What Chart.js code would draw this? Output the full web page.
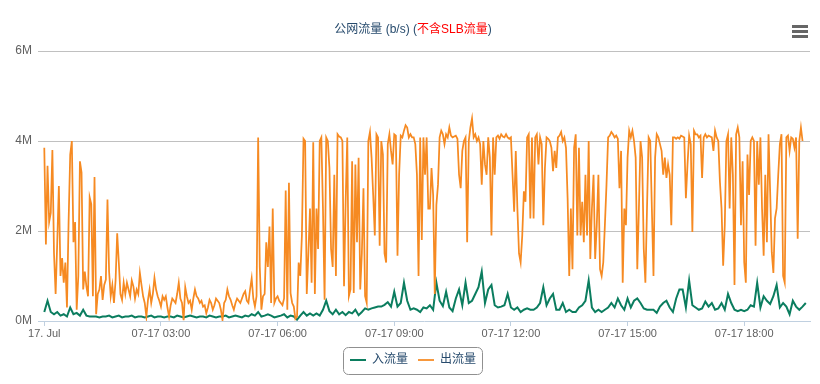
<!DOCTYPE html>
<html>
<head>
<meta charset="utf-8">
<script src="https://cdn.jsdelivr.net/npm/chart.js@4/dist/chart.umd.min.js"></script>
<style>
  html, body { margin: 0; padding: 0; background: #ffffff; }
  #wrap { width: 820px; height: 384px; position: relative; }
</style>
</head>
<body>
<div id="wrap"><canvas id="c" width="820" height="384"></canvas></div>
<script>
// ---- texts ----
const titleParts = ['公网流量 (b/s) (', '不含SLB流量', ')'];
const seriesNames = ['入流量', '出流量'];
const tickMinutes = [0, 180, 360, 540, 720, 900, 1080];
const tickLabels = ['17. Jul', '07-17 03:00', '07-17 06:00', '07-17 09:00', '07-17 12:00', '07-17 15:00', '07-17 18:00'];
const yTicks = [0, 2, 4, 6];

// sample intervals (minutes), both series start at 07-17 00:00
const IN_STEP_MIN = 5;
const OUT_STEP_MIN = 2.5;

// 入流量 (M b/s), one value every 5 minutes
const inFlow = [
  0.2,0.45,0.2,0.15,0.2,0.12,0.15,0.1,0.3,0.15,
  0.18,0.12,0.25,0.12,0.1,0.1,0.1,0.08,0.1,0.1,
  0.12,0.08,0.1,0.12,0.08,0.1,0.1,0.12,0.08,0.1,
  0.1,0.08,0.1,0.12,0.08,0.1,0.1,0.08,0.1,0.1,
  0.08,0.12,0.1,0.08,0.1,0.12,0.1,0.08,0.1,0.1,
  0.08,0.12,0.1,0.08,0.1,0.1,0.12,0.08,0.1,0.12,
  0.1,0.08,0.12,0.1,0.15,0.12,0.2,0.1,0.12,0.15,
  0.12,0.08,0.1,0.12,0.15,0.08,0.12,0.1,0.03,0.12,
  0.2,0.12,0.17,0.12,0.17,0.12,0.25,0.45,0.22,0.15,
  0.25,0.15,0.2,0.13,0.2,0.17,0.25,0.13,0.2,0.28,
  0.25,0.28,0.3,0.32,0.32,0.36,0.42,0.32,0.65,0.32,
  0.4,0.85,0.45,0.25,0.28,0.25,0.2,0.3,0.28,0.35,
  0.25,0.85,0.45,0.33,0.65,0.3,0.22,0.5,0.7,0.35,
  0.85,0.4,0.45,0.6,0.75,1.1,0.4,0.7,0.8,0.35,
  0.3,0.32,0.35,0.6,0.3,0.25,0.3,0.2,0.25,0.28,
  0.25,0.25,0.3,0.4,0.75,0.35,0.5,0.6,0.25,0.25,
  0.4,0.2,0.25,0.2,0.2,0.3,0.35,0.45,0.9,0.3,
  0.2,0.25,0.2,0.25,0.3,0.4,0.3,0.5,0.35,0.25,
  0.5,0.3,0.45,0.5,0.4,0.28,0.25,0.25,0.25,0.18,
  0.32,0.4,0.45,0.3,0.2,0.5,0.7,0.7,0.3,0.9,
  0.35,0.3,0.25,0.28,0.43,0.32,0.4,0.25,0.28,0.4,
  0.25,0.6,0.4,0.25,0.22,0.25,0.22,0.25,0.35,0.32,
  0.85,0.3,0.55,0.45,0.38,0.55,0.8,0.3,0.4,0.32,
  0.15,0.45,0.32,0.25,0.32,0.4
];

// 出流量 (M b/s), one value every 2.5 minutes
const outFlow = [
  3.85,1.7,3.45,2.2,2.4,3.8,1.5,0.6,1.75,3.0,
  1.0,1.4,0.85,1.3,0.3,2.2,3.7,4.0,1.75,2.2,
  0.25,1.0,3.55,3.3,0.7,1.1,0.77,0.55,2.75,2.6,
  0.55,3.2,0.15,0.6,0.7,1.0,0.47,0.8,0.92,2.7,
  1.1,0.55,0.8,0.4,0.9,1.95,1.3,0.6,0.47,0.85,
  0.6,0.85,0.7,0.55,0.9,0.77,0.5,0.7,0.6,1.07,
  0.8,0.55,0.4,0.1,0.47,0.7,0.4,0.6,0.96,0.7,
  0.55,0.45,0.32,0.55,0.47,0.55,0.3,0.1,0.35,0.5,
  0.45,0.4,0.6,0.85,0.5,0.4,0.02,0.75,0.55,0.4,
  0.45,0.25,0.5,0.7,0.55,0.5,0.4,0.45,0.32,0.35,
  0.17,0.3,0.47,0.4,0.25,0.35,0.5,0.45,0.4,0.25,
  0.02,0.4,0.47,0.7,0.55,0.47,0.35,0.25,0.4,0.5,
  0.45,0.4,0.5,0.6,0.66,0.45,0.4,0.7,0.95,0.5,
  0.32,0.55,4.08,1.2,0.25,0.55,0.6,1.75,1.2,2.1,
  0.4,2.5,0.4,0.5,0.55,0.45,0.4,0.35,0.5,2.9,
  0.25,3.07,0.62,0.4,0.32,0.05,0.1,1.3,1.0,1.9,
  4.05,4.0,0.6,1.5,2.5,0.85,3.97,0.6,2.5,1.6,
  4.0,4.08,2.5,0.47,4.08,4.0,3.4,1.6,1.2,3.25,
  1.0,4.15,4.1,4.08,4.0,0.77,2.65,4.08,0.55,0.7,
  3.55,0.62,3.48,1.75,3.63,0.7,1.5,2.95,0.55,0.4,
  4.0,4.2,3.63,2.8,1.9,4.15,4.08,1.67,4.0,3.7,
  1.5,1.3,3.93,4.15,3.78,3.48,4.15,4.12,1.45,3.25,
  4.12,4.08,4.23,4.35,4.3,4.08,4.15,4.08,4.08,3.93,
  3.25,1.0,4.08,1.8,4.08,3.25,4.08,2.5,2.5,3.4,
  2.8,0.6,2.58,3.03,4.08,4.23,4.15,3.93,4.15,4.08,
  4.3,4.12,4.08,4.1,4.12,4.05,3.25,2.95,3.78,4.0,
  4.08,1.75,4.0,4.3,4.5,4.08,4.15,4.0,4.08,3.93,
  3.03,4.0,3.48,3.25,4.08,3.63,1.9,4.08,3.25,4.08,
  4.12,4.05,4.15,4.1,4.08,4.15,4.08,4.05,4.08,3.25,
  2.43,3.78,2.5,1.5,1.3,1.9,2.88,2.65,4.08,4.15,
  2.28,4.08,2.28,4.08,4.15,3.48,4.08,3.93,2.13,3.4,
  4.08,4.05,4.0,3.85,3.33,3.78,3.4,4.08,4.12,4.2,
  4.0,4.08,3.85,2.73,1.0,2.5,1.15,3.85,4.15,1.9,
  3.85,1.9,2.65,1.75,3.25,1.9,4.0,1.38,2.5,3.25,
  1.38,2.13,3.25,1.15,1.0,1.3,2.13,3.03,4.08,4.12,
  4.2,4.15,4.08,4.12,4.05,2.95,3.78,0.85,2.5,2.13,
  3.63,4.23,4.08,4.23,4.0,3.63,1.15,2.5,4.0,3.63,
  1.6,0.85,2.5,4.08,4.0,2.5,1.0,3.63,4.15,4.08,
  3.93,3.78,3.25,3.63,3.18,3.48,3.25,2.13,4.08,4.08,
  4.05,4.08,4.05,4.12,4.1,4.08,2.73,3.48,4.12,3.93,
  1.98,4.23,4.15,4.15,4.08,4.12,3.18,4.08,4.15,4.08,
  4.12,4.1,4.08,3.78,4.23,4.08,4.0,3.1,2.5,1.23,
  2.13,4.0,4.15,2.5,4.08,3.25,0.8,4.15,4.3,4.08,
  2.13,3.55,1.3,0.85,3.7,2.8,4.0,4.08,4.0,1.67,
  4.0,3.03,4.08,2.5,1.45,3.25,1.75,4.15,2.88,1.53,
  1.07,2.28,2.5,3.25,3.93,4.15,1.0,0.85,4.08,4.12,
  3.78,4.08,4.05,3.85,4.08,1.83,4.0,4.3,4.0
];

// ---- style ----
const FONT = '"Liberation Sans", Arial, "Noto Sans CJK SC", sans-serif';
const GREEN = '#0b7d5f';
const ORANGE = '#f68a22';
const TITLE_COLOR = '#274b6d';
const LABEL_COLOR = '#606060';

const toPoints = (arr, step) => arr.map((v, i) => ({ x: i * step, y: v }));

const decor = {
  id: 'decor',
  afterLayout(chart) {
    // nudge the centred legend slightly right, as in the original
    const lg = chart.legend;
    if (lg) { lg.left += 8; lg.right += 8; }
  },
  afterDraw(chart) {
    const ctx = chart.ctx;
    ctx.save();
    // title (two colours)
    ctx.font = '12px ' + FONT;
    ctx.textBaseline = 'middle';
    ctx.textAlign = 'left';
    const colors = [TITLE_COLOR, '#ff0000', TITLE_COLOR];
    const total = titleParts.reduce((s, t) => s + ctx.measureText(t).width, 0);
    let x = 413 - total / 2;
    titleParts.forEach((t, i) => {
      ctx.fillStyle = colors[i];
      ctx.fillText(t, x, 30);
      x += ctx.measureText(t).width;
    });
    // menu icon
    ctx.strokeStyle = '#666666';
    ctx.lineWidth = 3;
    ctx.lineCap = 'butt';
    [26.5, 31.5, 36.5].forEach(yy => {
      ctx.beginPath();
      ctx.moveTo(792, yy);
      ctx.lineTo(808, yy);
      ctx.stroke();
    });
    // legend border
    const lg = chart.legend;
    if (lg && lg.legendHitBoxes && lg.legendHitBoxes.length) {
      const hb = lg.legendHitBoxes;
      const l = Math.round(hb[0].left - 7) + 0.5;
      const last = hb[hb.length - 1];
      const r = Math.round(last.left + last.width + 6) + 0.5;
      const cy = hb[0].top + hb[0].height / 2;
      const t = Math.round(cy - 13) + 0.5, b = Math.round(cy + 14) + 0.5;
      ctx.strokeStyle = '#909090';
      ctx.lineWidth = 1;
      ctx.beginPath();
      ctx.roundRect(l, t, r - l, b - t, 5);
      ctx.stroke();
    }
    ctx.restore();
  }
};

new Chart(document.getElementById('c'), {
  type: 'line',
  data: {
    datasets: [
      { label: seriesNames[0], data: toPoints(inFlow, IN_STEP_MIN), borderColor: GREEN, backgroundColor: GREEN,
        borderWidth: 2, pointRadius: 0, tension: 0, order: 1 },
      { label: seriesNames[1], data: toPoints(outFlow, OUT_STEP_MIN), borderColor: ORANGE, backgroundColor: ORANGE,
        borderWidth: 1.75, pointRadius: 0, tension: 0, order: 0 }
    ]
  },
  options: {
    responsive: false,
    animation: false,
    layout: { padding: { top: 51, right: 10, bottom: 8, left: 0 } },
    plugins: {
      title: { display: false },
      tooltip: { enabled: false },
      legend: {
        position: 'bottom',
        labels: {
          usePointStyle: true,
          pointStyle: 'line',
          pointStyleWidth: 16,
          padding: 10,
          color: TITLE_COLOR,
          font: { size: 12, family: FONT },
          sort: (a, b) => a.datasetIndex - b.datasetIndex
        }
      }
    },
    scales: {
      x: {
        type: 'linear',
        min: -9.7,
        max: 1181.5,
        afterBuildTicks: s => { s.ticks = tickMinutes.map(v => ({ value: v })); },
        afterFit: s => { s.height = 23; },
        ticks: {
          autoSkip: false, maxRotation: 0, padding: 1,
          color: LABEL_COLOR, font: { size: 11, family: FONT },
          callback: v => { const k = tickMinutes.indexOf(v); return k >= 0 ? tickLabels[k] : ''; }
        },
        grid: { display: true, drawOnChartArea: false, drawTicks: true, tickLength: 5, color: '#C0D0E0' },
        border: { display: true, color: '#C0D0E0', width: 1 }
      },
      y: {
        min: 0,
        max: 6,
        afterBuildTicks: s => { s.ticks = yTicks.map(v => ({ value: v })); },
        afterFit: s => { s.width = 38; },
        ticks: {
          padding: 6, color: LABEL_COLOR, font: { size: 12, family: FONT },
          callback: v => v + 'M'
        },
        grid: { color: ctx => ctx.tick && ctx.tick.value === 0 ? 'rgba(0,0,0,0)' : '#C0C0C0', drawTicks: false },
        border: { display: false }
      }
    }
  },
  plugins: [decor]
});
</script>
</body>
</html>
